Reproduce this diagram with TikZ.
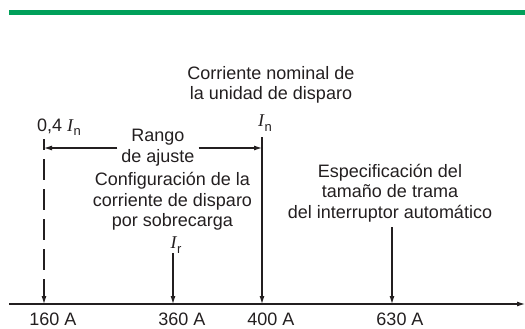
\documentclass[tikz,border=0pt]{standalone}
\usepackage{fontspec}
\setmainfont{Liberation Sans}
\newfontfamily\symfont{Liberation Serif}
\usetikzlibrary{arrows.meta}
\definecolor{bandgreen}{RGB}{0,160,90}
\definecolor{ink}{RGB}{35,31,32}
\newcommand{\curr}[1]{{\symfont\itshape I}\kern0.5pt\raisebox{-0.45ex}{\fontsize{13}{13}\selectfont #1}}

\begin{document}
\begin{tikzpicture}[
  x=1pt, y=-1pt,
  every node/.style={font=\fontsize{18}{20.5}\selectfont, inner sep=0pt, align=center, text=ink},
  axisline/.style={draw=ink, line width=1.1pt, -{Latex[length=8pt,width=5pt]}},
  marker/.style={draw=ink, line width=1.1pt, -{Latex[length=8pt,width=5pt]}},
  spanarrow/.style={draw=ink, line width=1.1pt, -{Latex[length=8pt,width=5pt]}},
  amount/.style={text depth=0pt}
]
\useasboundingbox (0,0) rectangle (525,329);
\fill[bandgreen] (9,10) rectangle (525,15);

% axis and tick points
\coordinate (start) at (9,304);
\coordinate (end) at (525,304);
\draw[axisline] (start) -- (end);
\coordinate (t160) at (44,304);
\coordinate (t360) at (173,304);
\coordinate (t400) at (262,304);
\coordinate (t630) at (392,304);

\node[amount] (v160) at (53,319) {160 A};
\node[amount] (v360) at (182,319) {360 A};
\node[amount] (v400) at (271,319) {400 A};
\node[amount] (v630) at (400,319) {630 A};

% labels above the axis
\node (nominal) at (271,85) {Corriente nominal de\\la unidad de disparo};
\node (in) at (265,123) {\curr{n}};
\node[anchor=west] (low) at (37,127) {0,4 \curr{n}};
\node[inner xsep=4pt] (rango) at (158,147.5) {Rango\\de ajuste};
\node (config) at (172.5,201.5) {Configuración de la\\corriente de disparo\\por sobrecarga};
\node (ir) at (176,245) {\curr{r}};
\node (frame) at (390,193) {Especificación del\\tamaño de trama\\del interruptor automático};

% vertical markers
\coordinate (top160) at (44,139);
\coordinate (top360) at (173,253);
\coordinate (top400) at (262,137);
\coordinate (top630) at (392,227);
\draw[marker, dash pattern=on 21pt off 9pt, dash phase=10pt] (top160) -- (t160);
\draw[marker] (top360) -- (t360);
\draw[marker] (top400) -- (t400);
\draw[marker] (top630) -- (t630);

% adjustment range
\coordinate (rl) at (44,148);
\coordinate (rr) at (262,148);
\draw[spanarrow] (rango.west |- rl) -- (rl);
\draw[spanarrow] (rango.east |- rr) -- (rr);
\end{tikzpicture}
\end{document}
